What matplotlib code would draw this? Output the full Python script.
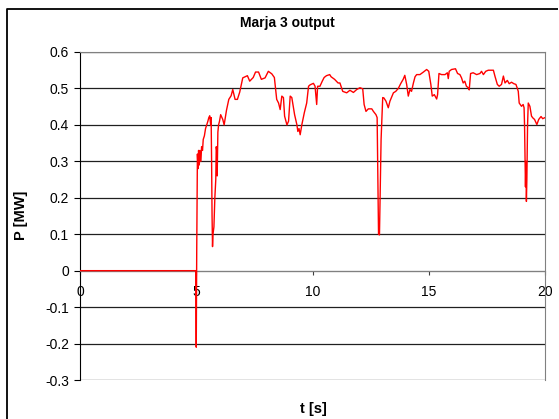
import matplotlib
matplotlib.use("Agg")
import matplotlib.pyplot as plt
from matplotlib.lines import Line2D

plt.rcParams['font.family'] = ['Liberation Sans', 'DejaVu Sans']

# tiempo [s] y potencia [MW]
t = [0, 4.98, 5.0, 5.02, 5.05, 5.08, 5.1, 5.13, 5.16, 5.2, 5.23, 5.27, 5.3, 5.35, 5.4,
     5.45, 5.5, 5.54, 5.58, 5.62, 5.64, 5.66, 5.68, 5.7, 5.72, 5.76, 5.8, 5.84, 5.86,
     5.88, 5.9, 5.93, 5.96, 6.0, 6.05, 6.14, 6.2, 6.3, 6.4, 6.5, 6.57, 6.67, 6.77,
     6.87, 7.0, 7.2, 7.3, 7.45, 7.55, 7.68, 7.8,
     7.96, 8.1, 8.25, 8.36, 8.46, 8.54, 8.61, 8.68, 8.75, 8.8, 8.9, 8.97, 9.04, 9.11,
     9.23, 9.33, 9.37, 9.42, 9.47, 9.54, 9.65, 9.75, 9.83, 9.9, 10.04, 10.11, 10.18,
     10.22, 10.32, 10.42, 10.5, 10.6, 10.74, 10.8, 10.95, 11.1,
     11.18, 11.3, 11.47, 11.61, 11.76, 11.9, 12.04, 12.16, 12.22, 12.3, 12.4, 12.55,
     12.62, 12.73, 12.78, 12.81, 12.84, 12.88, 12.92, 12.95, 13.02, 13.07, 13.16,
     13.26, 13.33, 13.48, 13.58, 13.69, 13.8, 13.9, 13.97, 14.05, 14.12, 14.19, 14.26,
     14.34, 14.41, 14.48,
     14.62, 14.77, 14.91, 15.0, 15.09, 15.15, 15.24, 15.34, 15.38, 15.44, 15.55, 15.7,
     15.8, 15.84, 15.88, 15.98, 16.15, 16.24, 16.34, 16.41, 16.48, 16.55, 16.62, 16.7,
     16.74, 16.8, 16.91, 17.06, 17.2, 17.27, 17.35, 17.45, 17.56, 17.63,
     17.78, 17.85, 17.95, 18.03, 18.13, 18.21, 18.28, 18.38, 18.46, 18.56, 18.66,
     18.75, 18.8, 18.85, 18.89, 18.99, 19.06, 19.1, 19.12, 19.14, 19.16, 19.18, 19.2,
     19.22, 19.25, 19.28, 19.35, 19.42, 19.48, 19.55, 19.65, 19.73, 19.83, 19.9, 20.0]
p = [0, 0, -0.21, 0.05, 0.32, 0.28, 0.33, 0.29, 0.33, 0.30, 0.34, 0.33, 0.36, 0.37, 0.39,
     0.40, 0.41, 0.42, 0.425, 0.40, 0.42, 0.30, 0.15, 0.066, 0.10, 0.12, 0.20, 0.25, 0.34,
     0.33, 0.26, 0.38, 0.40, 0.41, 0.428, 0.415, 0.40, 0.44, 0.47, 0.48, 0.497, 0.47, 0.47,
     0.49, 0.529, 0.535, 0.52, 0.53, 0.545, 0.545, 0.525,
     0.529, 0.547, 0.54, 0.53, 0.47, 0.46, 0.442, 0.479, 0.475, 0.424, 0.40, 0.41, 0.479, 0.475,
     0.428, 0.40, 0.382, 0.39, 0.373, 0.40, 0.434, 0.46, 0.506, 0.51, 0.514, 0.506, 0.456,
     0.506, 0.506, 0.52, 0.53, 0.535, 0.538, 0.532, 0.525, 0.515,
     0.515, 0.492, 0.488, 0.495, 0.489, 0.497, 0.502, 0.499, 0.456, 0.437, 0.444, 0.444,
     0.437, 0.428, 0.42, 0.25, 0.10, 0.098, 0.25, 0.36, 0.475, 0.474, 0.465,
     0.447, 0.465, 0.488, 0.492, 0.50, 0.514, 0.525, 0.536, 0.511, 0.479, 0.497, 0.492,
     0.515, 0.532, 0.538,
     0.538, 0.545, 0.552, 0.547, 0.511, 0.479, 0.483, 0.471, 0.483, 0.541, 0.538, 0.538,
     0.543, 0.527, 0.547, 0.552, 0.554, 0.541, 0.538, 0.529, 0.515, 0.52, 0.506, 0.502,
     0.496, 0.541, 0.543, 0.538, 0.541, 0.547, 0.538, 0.547, 0.55, 0.55,
     0.55, 0.533, 0.511, 0.506, 0.511, 0.534, 0.515, 0.522, 0.513, 0.517, 0.513,
     0.511, 0.502, 0.492, 0.46, 0.451, 0.456, 0.447, 0.40, 0.31, 0.23, 0.30, 0.19,
     0.25, 0.40, 0.46, 0.451, 0.424, 0.419, 0.415, 0.401, 0.415, 0.423, 0.417, 0.42]

y_ticks = [-0.3, -0.2, -0.1, 0, 0.1, 0.2, 0.3, 0.4, 0.5, 0.6]
y_labels = ['-0.3', '-0.2', '-0.1', '0', '0.1', '0.2', '0.3', '0.4', '0.5', '0.6']
x_ticks = [0, 5, 10, 15, 20]

fig = plt.figure(figsize=(5.59, 4.19), dpi=100)
ax = fig.add_axes([80 / 559, 39 / 419, 465 / 559, 328 / 419])

# marco exterior del grafico estilo excel: solo borde izquierdo y de arriba,
# el resto queda fuera de la imagen
x0 = 7 / 559
y0 = 1 - 9 / 419
fig.add_artist(Line2D([x0, x0, 0.999], [0.0, y0, y0], transform=fig.transFigure,
                      color='black', linewidth=1.3, solid_capstyle='butt'))

for y in y_ticks:
    ax.axhline(y, color='#202020' if y != 0 else '#808080', linewidth=0.9, zorder=1)

ax.plot(t, p, color='red', linewidth=1.0, zorder=3)

ax.set_xlim(0, 20)
ax.set_ylim(-0.3, 0.6)
ax.set_yticks(y_ticks)
ax.set_yticklabels(y_labels)
ax.set_xticks(x_ticks)

ax.spines['bottom'].set_position(('data', 0))
ax.spines['bottom'].set_color('#808080')
ax.spines['top'].set_color('#808080')
ax.spines['right'].set_color('#808080')
ax.spines['left'].set_color('black')
ax.tick_params(axis='y', direction='out', length=4, labelsize=10, pad=4)
ax.tick_params(axis='x', direction='out', length=3, labelsize=10, pad=7,
               color='#404040')

fig.text(287 / 559, 1 - 23 / 419, 'Marja 3 output', ha='center', va='center',
         fontsize=10, fontweight='bold')
fig.text(21 / 559, 1 - 215 / 419, 'P [MW]', ha='center', va='center',
         rotation=90, fontsize=10.5, fontweight='bold')
fig.text(313 / 559, 1 - 409 / 419, 't [s]', ha='center', va='center',
         fontsize=10.5, fontweight='bold')

fig.savefig('out.png', dpi=100)
